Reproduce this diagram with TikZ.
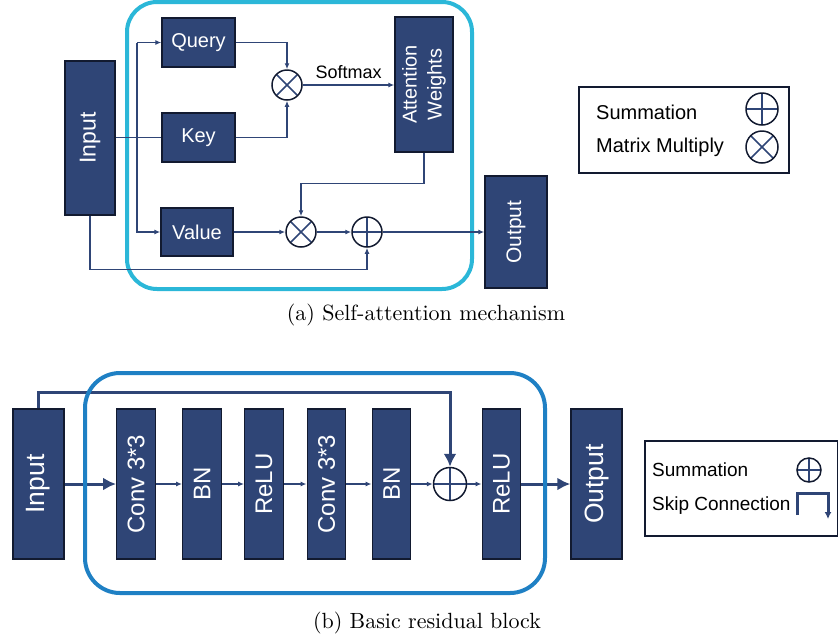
\documentclass[tikz,border=0pt]{standalone}
\usepackage{fontspec}
\newfontfamily\arialfont{Liberation Sans}
\newfontfamily\capfont{lmroman10-regular.otf}
\usetikzlibrary{arrows.meta}
\definecolor{navy}{RGB}{47,69,118}
\definecolor{edge}{RGB}{18,26,48}
\definecolor{cyanframe}{RGB}{43,183,216}
\definecolor{blueframe}{RGB}{31,128,196}
\newcommand{\arl}[1]{\arialfont\fontsize{#1}{#1}\selectfont}
\newcommand{\uprot}[1]{\rotatebox{90}{#1}}

\begin{document}
\begin{tikzpicture}[x=1pt,y=-1pt,
    blk/.style={draw=edge,fill=navy,text=white,line width=1.4pt,inner sep=0pt,font=\arl{20}},
    op/.style={circle,draw=edge,line width=1.5pt,minimum size=30pt,inner sep=0pt},
    mul/.style={op,path picture={\draw[navy,line width=1.5pt]
        (path picture bounding box.north west) -- (path picture bounding box.south east)
        (path picture bounding box.north east) -- (path picture bounding box.south west);}},
    add/.style={op,path picture={\draw[navy,line width=1.5pt]
        (path picture bounding box.north) -- (path picture bounding box.south)
        (path picture bounding box.west) -- (path picture bounding box.east);}},
    ln/.style={navy,line width=1.5pt},
    arr/.style={ln,-{Latex[length=6pt,width=5pt]}},
    fat/.style={navy,line width=3pt,-{Latex[length=13pt,width=13pt]}},
    lbl/.style={font=\arl{20},anchor=west,inner sep=0pt},
    capt/.style={font=\capfont\fontsize{22}{26}\selectfont}]
    \useasboundingbox (0,0) rectangle (838,641);

    % (a) self-attention
    \draw[cyanframe,line width=4pt,rounded corners=30pt] (127,2) rectangle (472,289);
    \node[blk,minimum width=50pt,minimum height=154pt,font=\arl{23}] (inp) at (90,138) {\uprot{Input}};
    \node[blk,minimum width=73pt,minimum height=49pt] (q) at (198.5,42.5) {Query};
    \node[blk,minimum width=73pt,minimum height=49pt] (k) at (198.5,137.5) {Key};
    \node[blk,minimum width=72pt,minimum height=48pt] (v) at (197,232) {Value};
    \node[blk,minimum width=58pt,minimum height=135pt,font={\arialfont\fontsize{20}{25}\selectfont}] (att) at (424,84.5)
        {\uprot{\begin{tabular}{@{}c@{}}Attention\\Weights\end{tabular}}};
    \node[blk,minimum width=62pt,minimum height=112pt,font=\arl{21}] (out) at (516,232) {\uprot{Output}};
    \node[mul] (m1) at (287,85) {};
    \node[mul] (m2) at (301,232) {};
    \node[add] (s1) at (367,232) {};

    \coordinate (br) at (137,137.5);
    \draw[ln] (inp.east |- k.west) -- (k.west);
    \draw[arr] (br |- q.west) -- (q.west);
    \draw[arr] (br |- q.west) -- (br |- v.west) -- (v.west);
    \draw[arr] (q.east) -| (m1.north);
    \draw[arr] (k.east) -| (m1.south);
    \draw[arr] (m1.east) -- node[above=2pt,font=\arl{18},text=black]{Softmax} (m1.east -| att.west);
    \draw[arr] (att.south) -- ++(0,31) -| (m2.north);
    \draw[arr] (v.east) -- (m2.west);
    \draw[arr] (m2.east) -- (s1.west);
    \draw[arr] (s1.east) -- (out.west);
    \draw[arr] (inp.south) -- ++(0,54) -| (s1.south);

    \draw[edge,line width=1.5pt] (579,87) rectangle (789,173);
    \node[lbl] (l1) at (596,112) {Summation};
    \node[lbl] (l2) at (596,147) {Matrix Multiply};
    \node[add,minimum size=32pt] (i1) at (762,109) {};
    \node[mul,minimum size=32pt] (i2) at (762,147) {};
    \node[capt] (capa) at (426,315) {(a) Self-attention mechanism};

    % (b) residual block
    \node[blk,minimum width=51pt,minimum height=150pt,font=\arl{26.5}] (inp2) at (38.5,484) {\uprot{Input}};
    \foreach \n/\x/\t in {c1/136/Conv 3*3,b1/202/BN,r1/264/ReLU,c2/326.5/Conv 3*3,b2/391.5/BN,r2/501.5/ReLU}
        \node[blk,minimum width=38.5pt,minimum height=150pt,font=\arl{24}] (\n) at (\x,484) {\uprot{\t}};
    \node[blk,minimum width=51pt,minimum height=150pt,font=\arl{26.5}] (out2) at (596.5,484) {\uprot{Output}};
    \node[add,minimum size=33pt] (s2) at (450,484) {};

    \draw[fat] (inp2.east) -- (c1.west);
    \foreach \a/\b in {c1/b1,b1/r1,r1/c2,c2/b2,b2/s2,s2/r2}
        \draw[arr] (\a) -- (\b);
    \draw[fat] (r2) -- (out2);
    \draw[fat] (inp2.north) -- ++(0,-16) -| (s2.north);
    \draw[blueframe,line width=4pt,rounded corners=35pt] (85,373) rectangle (545,593);

    \draw[edge,line width=1.5pt] (645,441) rectangle (837.5,536);
    \node[lbl,font=\arl{19}] (l3) at (652,470) {Summation};
    \node[lbl,font=\arl{19}] (l4) at (652,506) {Skip Connection};
    \node[add,minimum size=24pt] (i3) at (809,470) {};
    \draw[navy,line width=3pt,-{Latex[length=7pt,width=7pt]}] (797,515) -- (797,493) -- (828,493) -- (828,519);
    \node[capt] (capb) at (427,623) {(b) Basic residual block};
\end{tikzpicture}
\end{document}
